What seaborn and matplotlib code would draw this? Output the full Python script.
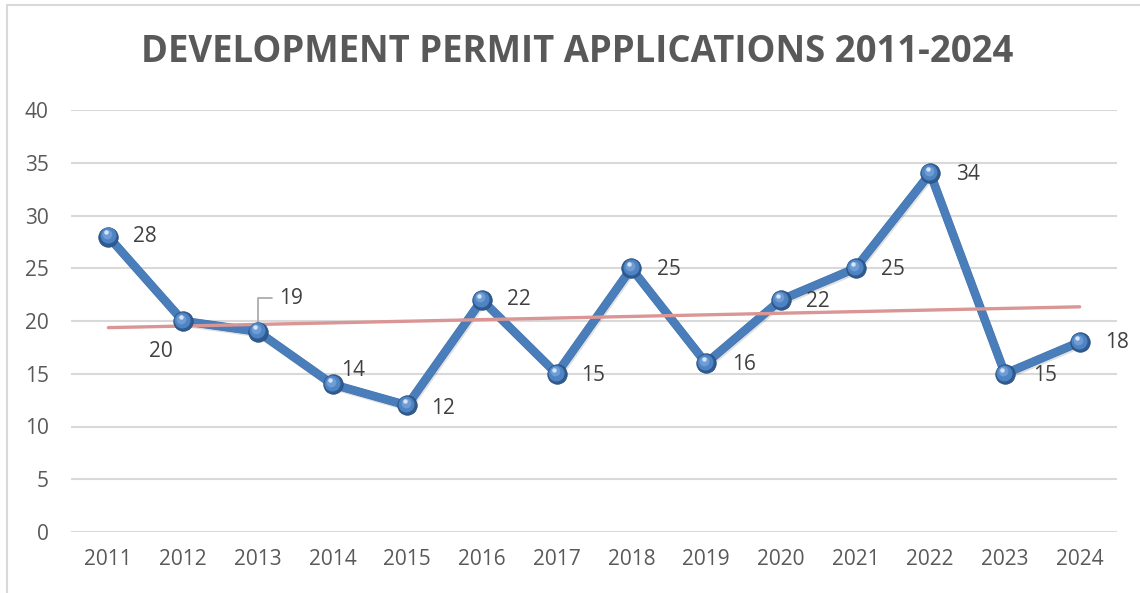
import numpy as np
import pandas as pd
import matplotlib
matplotlib.use("Agg")
import matplotlib.pyplot as plt
import matplotlib.patheffects as pe
import matplotlib.transforms as mtransforms
from matplotlib.patches import Rectangle
import seaborn as sns

years = ["2011", "2012", "2013", "2014", "2015", "2016", "2017",
         "2018", "2019", "2020", "2021", "2022", "2023", "2024"]
applications = [28, 20, 19, 14, 12, 22, 15, 25, 16, 22, 25, 34, 15, 18]
y_ticks = [0, 5, 10, 15, 20, 25, 30, 35, 40]
title = "DEVELOPMENT PERMIT APPLICATIONS 2011-2024"

# label offsets in points (dx, dy) relative to each marker centre
label_offsets = [(26.5, 0), (-16, -22), (24, 24), (14.5, 10), (26, -2),
                 (26.5, 0), (26.5, -1), (27, -1), (27, -1), (26.5, -1),
                 (27, -1), (27, -1), (29, -1.5), (27, 0)]

df = pd.DataFrame({"pos": np.arange(len(years)), "value": applications})

sns.set_theme(style="white")
plt.rcParams["font.family"] = ["Open Sans", "DejaVu Sans"]

fig = plt.figure(figsize=(11.4, 5.93), dpi=100)
ax = fig.add_axes([71 / 1140, 61 / 593, 1046 / 1140, 422 / 593])

# outer chart frame
fig.patches.append(Rectangle((7 / 1140, -0.5), 2, 0.5 + (593 - 5) / 593,
                             transform=fig.transFigure, fill=False,
                             edgecolor="#d9d9d9", lw=1.5, zorder=0))

blue = "#4a7ebb"
sns.lineplot(data=df, x="pos", y="value", ax=ax, color=blue, lw=5.6,
             zorder=3, path_effects=[
                 pe.SimpleLineShadow(offset=(1.0, -1.5), alpha=0.12, shadow_color="#000000"),
                 pe.Stroke(linewidth=6.2, foreground="#4173ae"),
                 pe.Normal()])

# linear trend
sns.regplot(data=df, x="pos", y="value", ax=ax, scatter=False, ci=None,
            truncate=True, line_kws=dict(color="#d99694", lw=2.4, zorder=4))

# spherical markers: base, body and highlight
x = df["pos"].to_numpy()
y = df["value"].to_numpy()
ax.plot(x, y, ls="none", marker="o", ms=14, mfc="#2f5b90", mec="#284f80",
        mew=0.6, zorder=5, clip_on=False)
body = mtransforms.offset_copy(ax.transData, fig=fig, x=-0.6, y=0.8, units="points")
ax.plot(x, y, ls="none", marker="o", ms=11.5, mfc="#4f84c4", mec="none",
        transform=body, zorder=6, clip_on=False)
mid = mtransforms.offset_copy(ax.transData, fig=fig, x=-1.2, y=1.8, units="points")
ax.plot(x, y, ls="none", marker="o", ms=7, mfc="#72a0d8", mec="none",
        transform=mid, zorder=7, clip_on=False, alpha=0.9)
hl = mtransforms.offset_copy(ax.transData, fig=fig, x=-1.8, y=3.0, units="points")
ax.plot(x, y, ls="none", marker="o", ms=3.2, mfc="#d6e4f5", mec="none",
        transform=hl, zorder=8, clip_on=False)

# data labels
for xi, yi, (dx, dy) in zip(x, y, label_offsets):
    ax.annotate(f"{yi}", xy=(xi, yi), xytext=(dx, dy), textcoords="offset points",
                ha="center", va="center", fontsize=15, color="#404040", zorder=9)

# leader line for the 2013 label
ax.annotate("", xy=(2, 19), xytext=(10, 24), textcoords="offset points",
            arrowprops=dict(arrowstyle="-", color="#a6a6a6", lw=1.2,
                            connectionstyle="angle,angleA=0,angleB=90,rad=0",
                            shrinkA=0, shrinkB=0), zorder=4)

ax.set_xlim(-0.5, len(years) - 0.5)
ax.set_ylim(0, 40)
ax.set_yticks(y_ticks)
ax.set_xticks(np.arange(len(years)))
ax.set_xticklabels(years)
ax.set_xlabel("")
ax.set_ylabel("")
ax.grid(axis="y", color="#d9d9d9", lw=1.5)
ax.set_axisbelow(True)
for s in ax.spines.values():
    s.set_visible(False)
ax.tick_params(axis="both", length=0, labelsize=15, labelcolor="#595959")
ax.tick_params(axis="y", pad=16)
ax.tick_params(axis="x", pad=12.5)

fig.text(577 / 1140, 1 - 51.5 / 593, title, ha="center", va="center",
         fontsize=26.3, fontweight="bold", color="#595959")

fig.savefig("out.png", dpi=100, facecolor="white")
